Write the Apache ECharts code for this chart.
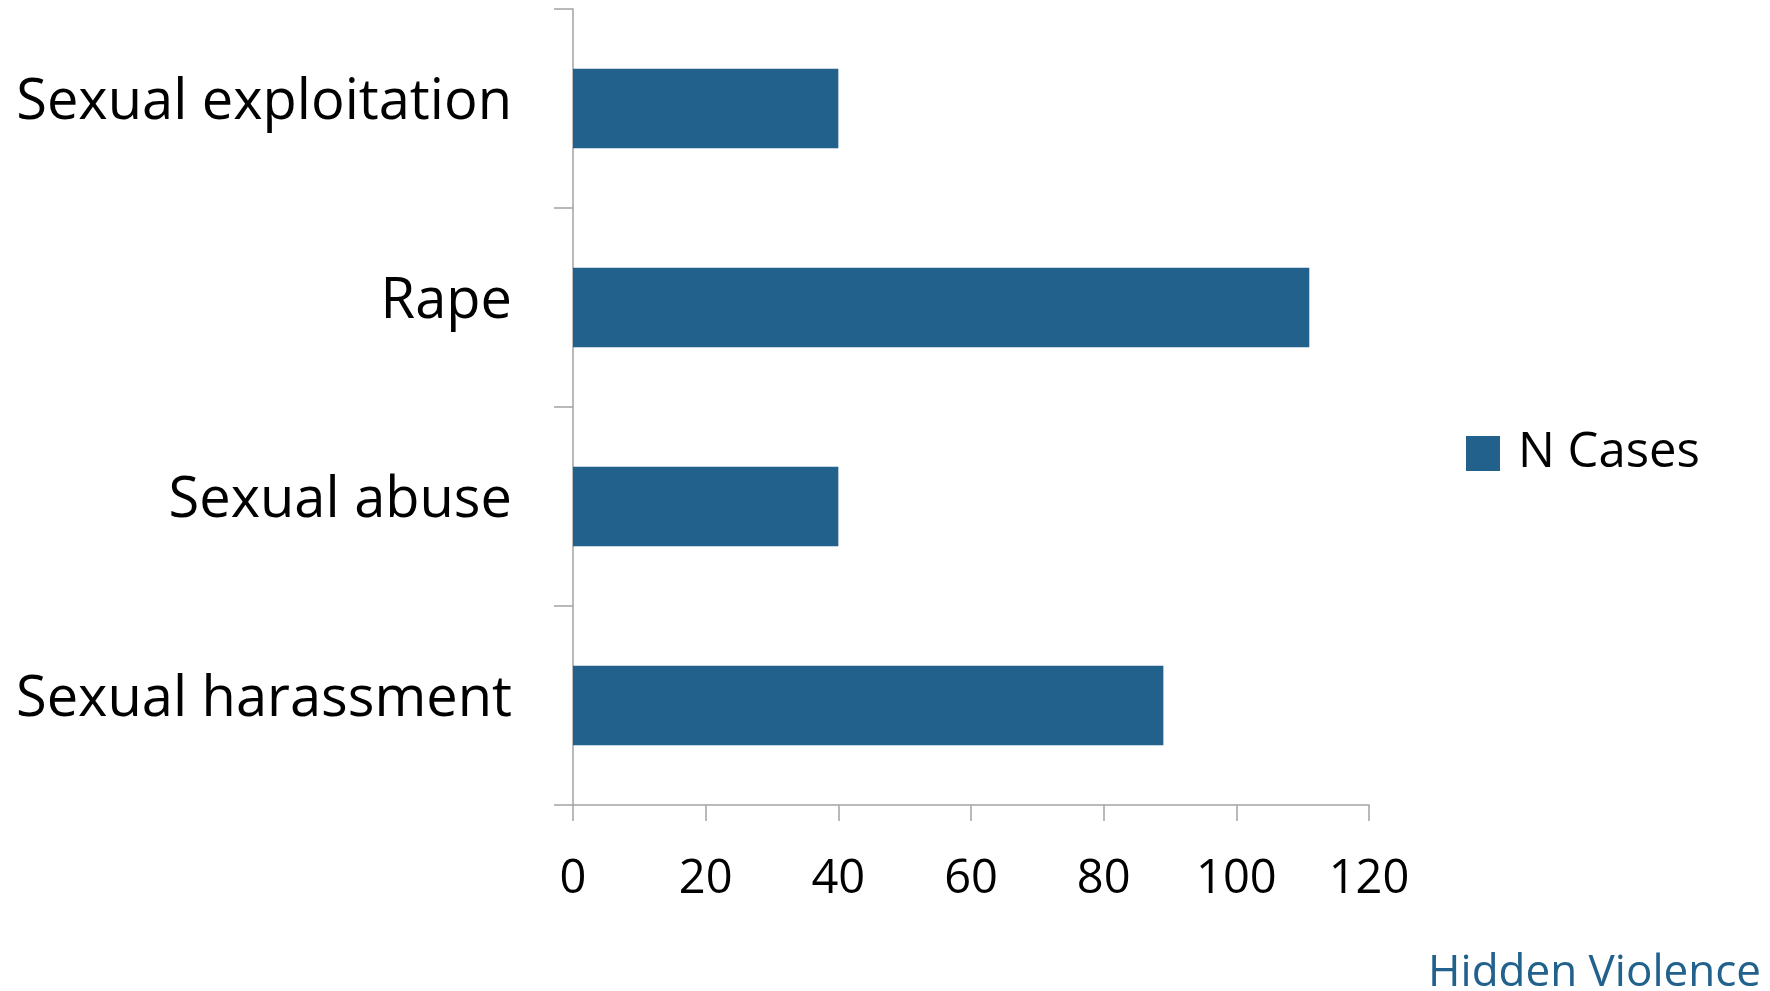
<!DOCTYPE html>
<html>
<head>
<meta charset="utf-8">
<script src="https://cdn.jsdelivr.net/npm/echarts@6/dist/echarts.min.js"></script>
<style>
  html, body { margin: 0; padding: 0; background: #fff; }
  #chart { width: 1770px; height: 991px; }
</style>
</head>
<body>
<div id="chart"></div>
<script>
// bottom to top, as the category axis draws them
const categories = ['Sexual harassment', 'Sexual abuse', 'Rape', 'Sexual exploitation']
const nCases = [89, 40, 111, 40]
const seriesName = 'N Cases'
const xTicks = { min: 0, max: 120, interval: 20 }

const barColor = '#22618c'
const axisColor = '#a3a3a3'
const font = '"Open Sans", sans-serif'

const chart = echarts.init(document.getElementById('chart'))

chart.setOption({
  backgroundColor: '#fff',
  animation: false,
  textStyle: { fontFamily: font },
  title: {
    text: 'Hidden Violence',
    right: 4,
    bottom: -9,
    textStyle: { color: barColor, fontSize: 44, fontWeight: 'normal', fontFamily: font },
  },
  legend: {
    data: [seriesName],
    left: 1461,
    top: 424,
    icon: 'rect',
    itemWidth: 34,
    itemHeight: 35,
    textStyle: { color: '#000', fontSize: 49, lineHeight: 49, padding: [0, 0, 0, 13], fontFamily: font },
  },
  grid: { left: 573, top: 9, right: 401, bottom: 186, containLabel: false },
  xAxis: {
    type: 'value',
    min: xTicks.min,
    max: xTicks.max,
    interval: xTicks.interval,
    axisLine: { show: true, lineStyle: { color: axisColor, width: 1.5 } },
    axisTick: { show: true, length: 16, lineStyle: { color: axisColor, width: 1.5 } },
    splitLine: { show: false },
    axisLabel: { color: '#000', fontSize: 47, lineHeight: 47, margin: 51, fontFamily: font },
  },
  yAxis: {
    type: 'category',
    data: categories,
    axisLine: { show: true, lineStyle: { color: axisColor, width: 1.5 } },
    axisTick: { show: true, length: 19, alignWithLabel: false, lineStyle: { color: axisColor, width: 1.5 } },
    axisLabel: { color: '#000', fontSize: 56, lineHeight: 10, verticalAlign: 'bottom', margin: 61, fontFamily: font },
  },
  series: [{
    name: seriesName,
    type: 'bar',
    data: nCases,
    barCategoryGap: '60%',
    itemStyle: { color: barColor },
  }],
})
</script>
</body>
</html>
